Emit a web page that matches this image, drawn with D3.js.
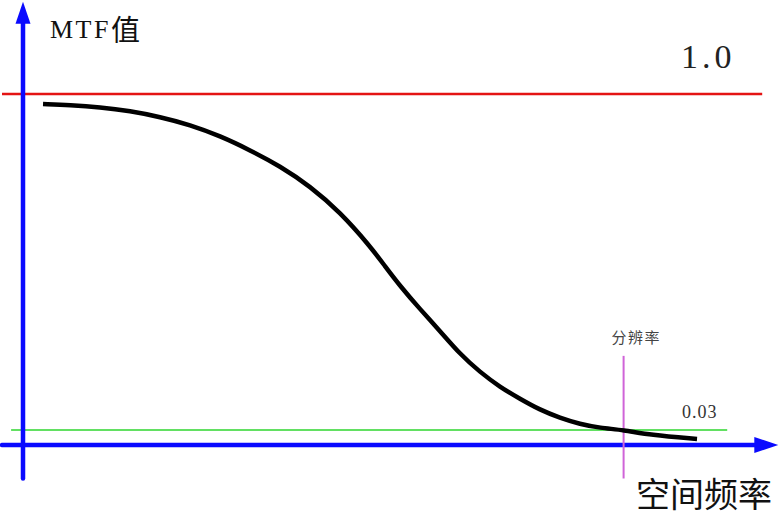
<!DOCTYPE html>
<html>
<head>
<meta charset="utf-8">
<script src="https://cdn.jsdelivr.net/npm/d3@7"></script>
<style>
  html, body { margin: 0; padding: 0; background: #fff; }
  svg { display: block; }
</style>
</head>
<body>
<svg id="chart" width="781" height="515"></svg>
<script>
// ---- data (spatial frequency in arbitrary units, MTF value 0..1) ----
const frequency = [2.86, 6.71, 11.0, 15.29, 19.57, 23.86, 28.14, 32.43, 36.71, 41.0, 45.29, 49.57, 51.71, 53.86, 56.71, 59.57, 62.43, 65.29, 68.14, 71.0, 73.86, 76.71, 79.57, 82.43, 85.8, 89.57, 96.29];
const mtfValues = [0.971, 0.968, 0.962, 0.951, 0.934, 0.911, 0.879, 0.838, 0.792, 0.734, 0.659, 0.561, 0.503, 0.446, 0.379, 0.316, 0.249, 0.197, 0.154, 0.120, 0.088, 0.065, 0.047, 0.036, 0.030, 0.016, 0.004];
const maxMTF = 1.0;
const thresholdMTF = 0.03;
const resolutionFreq = 85.8;
const labels = { yTitle: "MTF", yTitleCJK: "值", xTitle: "空间频率", maxLabel: "1.0", thresholdLabel: "0.03", resolutionLabel: "分辨率" };
// extents of guide/axis lines in data units
const axisOriginMTF = -0.0133;
const axisBottomMTF = -0.11;
const axisTopMTF = 1.266;
const axisLeftFreq = -3;
const axisRightFreq = 107.9;
const maxLineFreq = [-3, 105.6];
const thresholdLineFreq = [-1.7, 100.6];
const resolutionLineMTF = [0.244, -0.11];

// ---- drawing ----
const svg = d3.select("#chart");
const x = d3.scaleLinear().domain([0, 100]).range([23, 723]);
const y = d3.scaleLinear().domain([thresholdMTF, maxMTF]).range([430, 94]);

const blue = "#0a0aff";

// red max line
svg.append("line")
  .attr("x1", x(maxLineFreq[0])).attr("x2", x(maxLineFreq[1]))
  .attr("y1", y(maxMTF)).attr("y2", y(maxMTF))
  .attr("stroke", "#e41414").attr("stroke-width", 2.6);

// green threshold line
svg.append("line")
  .attr("x1", x(thresholdLineFreq[0])).attr("x2", x(thresholdLineFreq[1]))
  .attr("y1", y(thresholdMTF)).attr("y2", y(thresholdMTF))
  .attr("stroke", "#62e062").attr("stroke-width", 2.2);

// axes
svg.append("line")
  .attr("x1", x(0)).attr("x2", x(0))
  .attr("y1", y(axisBottomMTF)).attr("y2", y(axisTopMTF) + 16)
  .attr("stroke", blue).attr("stroke-width", 4.5).attr("stroke-linecap", "round");
svg.append("line")
  .attr("x1", x(axisLeftFreq)).attr("x2", x(axisRightFreq) - 18)
  .attr("y1", y(axisOriginMTF)).attr("y2", y(axisOriginMTF))
  .attr("stroke", blue).attr("stroke-width", 4.5).attr("stroke-linecap", "round");

// arrow heads
const yTip = [x(0), y(axisTopMTF)];
svg.append("path")
  .attr("d", `M${yTip[0]},${yTip[1]} L${yTip[0] - 7.5},${yTip[1] + 22} L${yTip[0] + 7.5},${yTip[1] + 22} Z`)
  .attr("fill", blue);
const xTip = [x(axisRightFreq), y(axisOriginMTF)];
svg.append("path")
  .attr("d", `M${xTip[0]},${xTip[1]} L${xTip[0] - 24},${xTip[1] - 8} L${xTip[0] - 24},${xTip[1] + 8} Z`)
  .attr("fill", blue);

// magenta resolution line
svg.append("line")
  .attr("x1", x(resolutionFreq)).attr("x2", x(resolutionFreq))
  .attr("y1", y(resolutionLineMTF[0])).attr("y2", y(resolutionLineMTF[1]))
  .attr("stroke", "#d064d8").attr("stroke-width", 2);

// MTF curve
const pts = frequency.map((f, i) => [f, mtfValues[i]]);
svg.append("path")
  .datum(pts)
  .attr("d", d3.line().x(d => x(d[0])).y(d => y(d[1])).curve(d3.curveBasis))
  .attr("fill", "none").attr("stroke", "#000").attr("stroke-width", 4.5)
  .attr("stroke-linecap", "butt");

// texts
const yt = svg.append("text")
  .attr("x", 50).attr("y", 38)
  .attr("fill", "#111");
yt.append("tspan")
  .attr("font-family", "Liberation Serif, DejaVu Serif, serif")
  .attr("font-size", 26).attr("letter-spacing", 2.5)
  .text(labels.yTitle);
yt.append("tspan")
  .attr("font-family", "Noto Sans CJK SC, sans-serif")
  .attr("font-size", 29).attr("dy", 3)
  .text(labels.yTitleCJK);

svg.append("text")
  .attr("x", 681).attr("y", 68)
  .attr("font-family", "Liberation Serif, DejaVu Serif, serif")
  .attr("font-size", 34).attr("letter-spacing", 4)
  .attr("fill", "#222")
  .text(labels.maxLabel);

svg.append("text")
  .attr("x", 682).attr("y", 418)
  .attr("font-family", "Liberation Serif, DejaVu Serif, serif")
  .attr("font-size", 18).attr("letter-spacing", 1)
  .attr("fill", "#333")
  .text(labels.thresholdLabel);

svg.append("text")
  .attr("x", x(resolutionFreq) - 12).attr("y", 336)
  .attr("dominant-baseline", "central")
  .attr("font-family", "Noto Sans CJK SC, sans-serif")
  .attr("font-size", 15).attr("letter-spacing", 1.5)
  .attr("fill", "#444")
  .text(labels.resolutionLabel);

svg.append("text")
  .attr("x", 636).attr("y", 492)
  .attr("dominant-baseline", "central")
  .attr("font-family", "Noto Sans CJK SC, sans-serif")
  .attr("font-size", 34)
  .attr("fill", "#111")
  .text(labels.xTitle);
</script>
</body>
</html>
